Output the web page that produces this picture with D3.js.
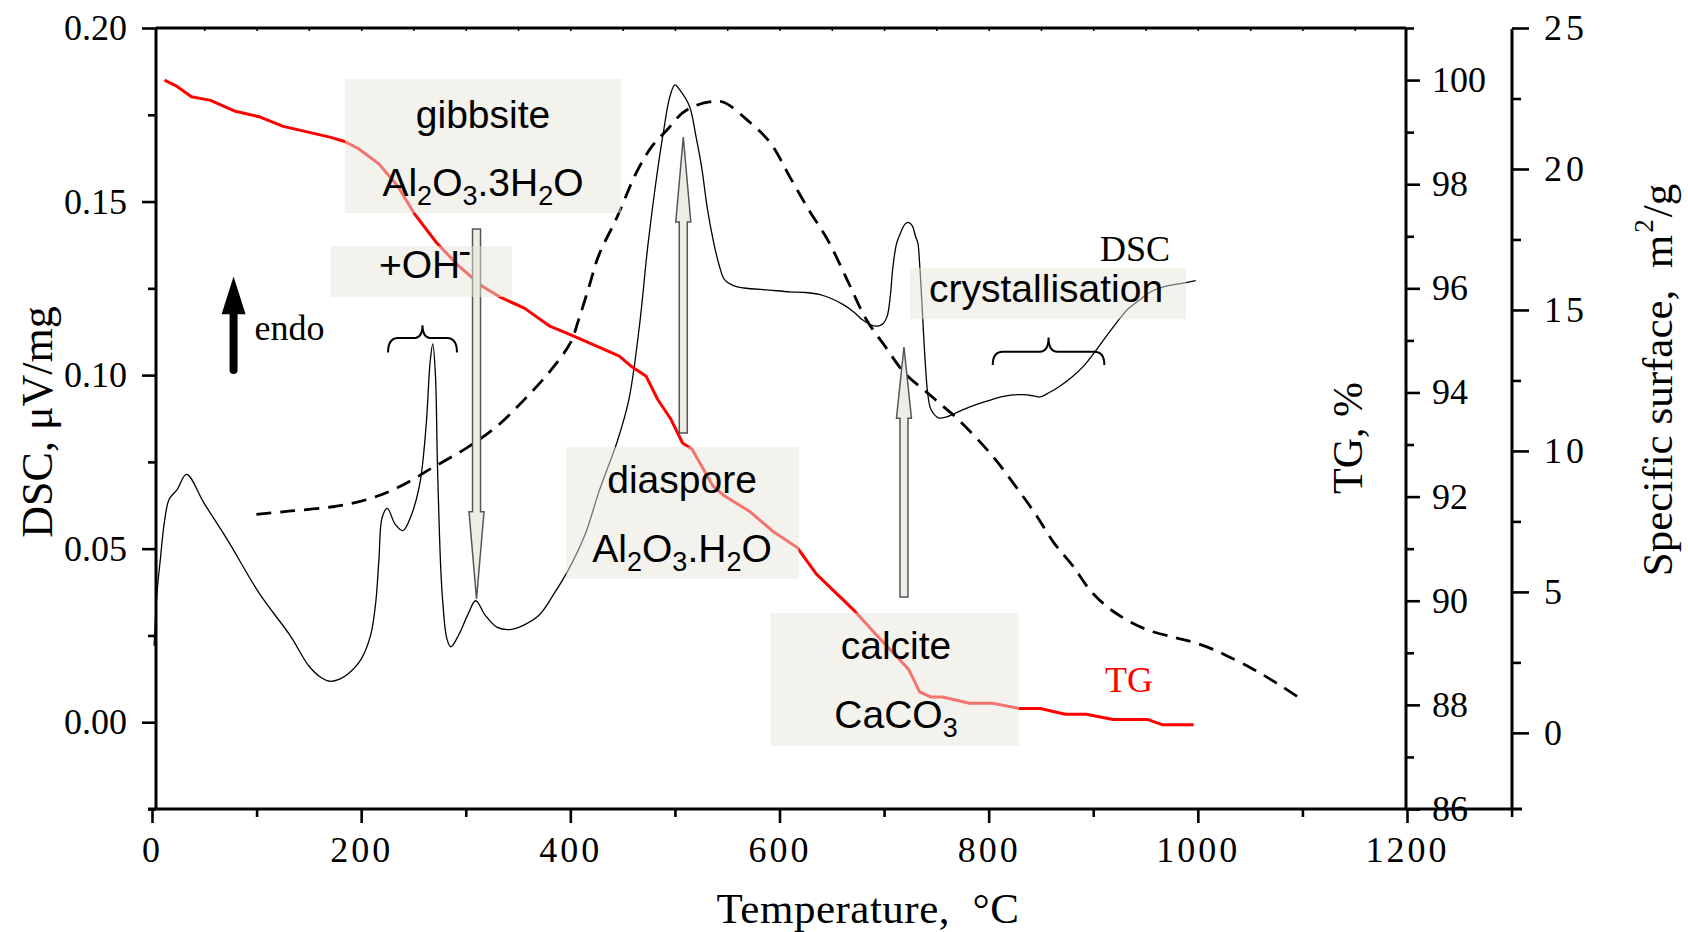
<!DOCTYPE html>
<html>
<head>
<meta charset="utf-8">
<script src="https://cdn.jsdelivr.net/npm/d3@7"></script>
<style>
  body { margin: 0; background: #fff; }
  svg { display: block; }
  .serif { font-family: "Liberation Serif", "Times New Roman", serif; }
  .sans { font-family: "Liberation Sans", Arial, sans-serif; }
</style>
</head>
<body>
<svg id="chart" width="1688" height="932"></svg>
<script>
// DSC curve (temperature, uV/mg)
var dscTemp = [2, 5, 8, 12, 16.5, 24, 33, 50, 73, 102.6, 132, 150, 162, 170, 180, 187, 200, 209, 214, 217,
  220, 225, 232.6, 240, 247, 256, 262, 266, 268.5, 271, 273, 276, 278, 282, 285.7, 293, 302, 309.5, 318.7, 329.7,
  342.5, 355, 370, 384.6, 399, 414, 428, 445, 456, 466, 474, 482, 489, 495, 500, 505, 514, 520, 525.5, 531,
  536.5, 542, 547.5, 556, 565.8, 590, 609.7, 625, 638.8, 650, 661, 671, 679, 687, 693.8, 699, 703, 706, 708.5, 712,
  715.8, 720, 723.2, 727, 730, 732.3, 734, 736, 739.6, 742, 745, 752, 760, 775, 790, 803.7, 814, 833, 843, 849,
  858, 868, 880, 890.5, 903, 912, 922, 933, 944.7, 955, 968, 982, 998];
var dscVal = [0.022, 0.038, 0.047, 0.058, 0.0643, 0.067, 0.0714, 0.063, 0.0521, 0.0371, 0.025, 0.0162, 0.0128, 0.0118, 0.0125, 0.0138, 0.0182, 0.025, 0.0347, 0.047,
  0.0589, 0.0616, 0.057, 0.0552, 0.0589, 0.0686, 0.085, 0.104, 0.109, 0.1, 0.0735, 0.045, 0.0347, 0.024, 0.0217, 0.025, 0.031, 0.035, 0.0308, 0.0274,
  0.0267, 0.0279, 0.0308, 0.0371, 0.0444, 0.054, 0.067, 0.081, 0.093, 0.114, 0.137, 0.156, 0.17, 0.18, 0.1836, 0.182, 0.1774, 0.169, 0.16, 0.148,
  0.139, 0.132, 0.1275, 0.1258, 0.1251, 0.1245, 0.124, 0.1238, 0.1232, 0.122, 0.1203, 0.1182, 0.116, 0.1145, 0.1141, 0.1148, 0.117, 0.123, 0.1313, 0.138,
  0.141, 0.1435, 0.144, 0.143, 0.14, 0.138, 0.132, 0.1217, 0.1025, 0.094, 0.09, 0.0877, 0.088, 0.09, 0.0917, 0.093, 0.0939, 0.0944, 0.094, 0.0937,
  0.095, 0.0968, 0.0995, 0.1025, 0.1073, 0.111, 0.115, 0.119, 0.1217, 0.124, 0.1255, 0.1263, 0.1272];

// TG curve (temperature, %)
var tgTemp = [12, 23, 37.7, 56, 79.7, 103.5, 125.5, 147.4, 171, 184, 196.8, 217, 235, 251.7, 271.9, 293.7, 315.7, 334, 356, 379.8,
  399.9, 428.4, 446.8, 457.8, 472.5, 483.4, 496.3, 507.3, 516.4, 536.5, 547.5, 571.2, 593.2, 617, 635.3, 672, 693.8, 723.2, 734, 745,
  756, 781.7, 803.7, 829.2, 849.4, 873.2, 893.3, 919, 951.8, 965.7, 996];
var tgVal = [100.0, 99.89, 99.68, 99.61, 99.40, 99.29, 99.11, 99.01, 98.90, 98.82, 98.69, 98.39, 97.96, 97.41, 96.88, 96.42, 96.04, 95.82, 95.62, 95.28,
  95.11, 94.86, 94.70, 94.51, 94.31, 93.87, 93.48, 93.03, 92.91, 92.20, 92.01, 91.72, 91.34, 91.02, 90.51, 89.80, 89.32, 88.69, 88.25, 88.15,
  88.15, 88.03, 88.03, 87.93, 87.93, 87.82, 87.82, 87.72, 87.72, 87.62, 87.62];

// specific surface (temperature, m2/g)
var ssTemp = [99.8, 132.8, 173, 206, 235, 268, 301, 330, 356, 380, 400, 408, 418, 426.8, 445, 463, 478, 492.6, 507, 520,
  536, 547, 569, 591.4, 609.7, 628, 646, 664.7, 683, 701, 719.5, 741.5, 752.4, 770.7, 803.7, 825.6, 843.9, 862.2, 880.5, 898.8,
  920.7, 950, 978, 996, 1014, 1028, 1050, 1064, 1082, 1095];
var ssVal = [7.75, 7.87, 8.02, 8.28, 8.70, 9.40, 10.11, 10.88, 11.82, 12.8, 13.83, 14.66, 15.84, 16.9, 18.32, 19.86, 20.80, 21.39, 21.98, 22.25,
  22.39, 22.36, 21.74, 20.92, 19.73, 18.55, 17.49, 16.07, 14.66, 13.71, 12.77, 12.06, 11.71, 11.12, 9.82, 8.75, 7.81, 6.75, 5.92, 4.98,
  4.27, 3.68, 3.38, 3.21, 2.97, 2.73, 2.32, 2.02, 1.61, 1.29];

var xTicks = [0, 200, 400, 600, 800, 1000, 1200];
var xMinor = [100, 300, 500, 700, 900, 1100, 1300];
var dscTicks = [0, 0.05, 0.10, 0.15, 0.20];
var dscMinor = [-0.025, 0.025, 0.075, 0.125, 0.175];
var tgTicks = [86, 88, 90, 92, 94, 96, 98, 100];
var tgMinor = [87, 89, 91, 93, 95, 97, 99, 101];
var ssTicks = [0, 5, 10, 15, 20, 25];
var ssMinor = [2.5, 7.5, 12.5, 17.5, 22.5];

// annotation boxes in data units: [t0, t1, dscTop, dscBottom]
var boxes = [
  [184.5, 448.5, 0.1853, 0.1467],
  [171, 344, 0.1372, 0.1225],
  [396, 618.6, 0.0793, 0.0413],
  [591.4, 829, 0.0315, -0.0068],
  [724.8, 988.7, 0.1309, 0.1161]
];
// hollow arrows: [t, dscTail, dscHeadBase, dscTip]
var hollowArrows = [
  [310.3, 0.1421, 0.0606, 0.0355],
  [508, 0.0833, 0.1441, 0.1686],
  [719, 0.0361, 0.0876, 0.1081]
];
// braces: [t0, t1, dscEnds, dscBar, dscCusp]
var braces = [
  [225.7, 291.6, 0.1065, 0.1107, 0.1144],
  [803.9, 910.6, 0.1029, 0.1067, 0.1108]
];

var svg = d3.select("#chart");

var x = d3.scaleLinear().domain([0, 1300]).range([152, 152 + 1300 * 1255 / 1200]);
var yDsc = d3.scaleLinear().domain([-0.025, 0.2]).range([809, 28]);
var yTg = d3.scaleLinear().domain([86, 101]).range([809, 28]);
var ySs = d3.scaleLinear().domain([-2.7, 25]).range([809, 28]);

function styleAxis(g) {
  g.select(".domain").remove();
  g.selectAll(".tick line").attr("stroke", "#000").attr("stroke-width", 2.6);
  g.selectAll(".tick text")
    .attr("class", "serif")
    .attr("font-size", 36)
    .attr("fill", "#000");
}

// left DSC axis
svg.append("g").attr("transform", "translate(156,0)")
  .call(d3.axisLeft(yDsc).tickValues(dscTicks).tickSize(14).tickPadding(15).tickFormat(d3.format(".2f")))
  .call(styleAxis);
svg.append("g").attr("transform", "translate(156,0)")
  .call(d3.axisLeft(yDsc).tickValues(dscMinor).tickSize(8).tickFormat(""))
  .call(styleAxis);

// bottom axis
var bottom = svg.append("g").attr("transform", "translate(0,809)")
  .call(d3.axisBottom(x).tickValues(xTicks).tickSize(14).tickPadding(13).tickFormat(d3.format("d")))
  .call(styleAxis);
bottom.selectAll(".tick text").attr("letter-spacing", 3);
svg.append("g").attr("transform", "translate(0,809)")
  .call(d3.axisBottom(x).tickValues(xMinor).tickSize(8).tickFormat(""))
  .call(styleAxis);

// small inner ticks on the top frame
var topTicks = svg.append("g").attr("transform", "translate(0,28)")
  .call(d3.axisBottom(x).tickValues(d3.range(50, 1200, 50)).tickSize(3).tickFormat(""))
  .call(styleAxis);
topTicks.selectAll(".tick line").attr("stroke-width", 1.5);

// TG axis
svg.append("g").attr("transform", "translate(1406,0)")
  .call(d3.axisRight(yTg).tickValues(tgTicks).tickSize(14).tickPadding(12).tickFormat(d3.format("d")))
  .call(styleAxis);
svg.append("g").attr("transform", "translate(1406,0)")
  .call(d3.axisRight(yTg).tickValues(tgMinor).tickSize(8).tickFormat(""))
  .call(styleAxis);

// specific surface axis
var ssAxis = svg.append("g").attr("transform", "translate(1512,0)")
  .call(d3.axisRight(ySs).tickValues(ssTicks).tickSize(17).tickPadding(15).tickFormat(d3.format("d")))
  .call(styleAxis);
ssAxis.selectAll(".tick text").attr("letter-spacing", 4);
svg.append("g").attr("transform", "translate(1512,0)")
  .call(d3.axisRight(ySs).tickValues(ssMinor).tickSize(9).tickFormat(""))
  .call(styleAxis);

// frame lines
var frame = svg.append("g").attr("stroke", "#000").attr("stroke-width", 3).attr("fill", "none");
frame.append("line").attr("x1", 156).attr("x2", 156).attr("y1", 28).attr("y2", 809);
frame.append("line").attr("x1", 156).attr("x2", 1406).attr("y1", 28).attr("y2", 28);
frame.append("line").attr("x1", 148).attr("x2", 1522).attr("y1", 809).attr("y2", 809);
frame.append("line").attr("x1", 1406).attr("x2", 1406).attr("y1", 28).attr("y2", 809);
frame.append("line").attr("x1", 1512).attr("x2", 1512).attr("y1", 29).attr("y2", 809);

// axis titles
svg.append("text").attr("class", "serif").attr("font-size", 43)
  .attr("x", 868).attr("y", 923).attr("text-anchor", "middle").attr("letter-spacing", 0.5)
  .text("Temperature,\u00a0\u00a0\u00b0C");
svg.append("text").attr("class", "serif").attr("font-size", 44)
  .attr("text-anchor", "middle").attr("transform", "translate(52,422) rotate(-90)")
  .text("DSC, \u03bcV/mg");
svg.append("text").attr("class", "serif").attr("font-size", 42)
  .attr("text-anchor", "middle").attr("transform", "translate(1362,438) rotate(-90)")
  .text("TG, %");
var ssTitle = svg.append("text").attr("class", "serif").attr("font-size", 43)
  .attr("text-anchor", "middle").attr("transform", "translate(1672,380) rotate(-90)");
ssTitle.append("tspan").text("Specific surface,\u00a0\u00a0m");
ssTitle.append("tspan").attr("font-size", 27).attr("dy", -19).attr("dx", 2).text("2");
ssTitle.append("tspan").attr("dy", 19).attr("dx", 2).text("/g");

// curves
var dscData = dscTemp.map(function(t, i) { return [t, dscVal[i]]; });
var tgData = tgTemp.map(function(t, i) { return [t, tgVal[i]]; });
var ssData = ssTemp.map(function(t, i) { return [t, ssVal[i]]; });

var dscLine = d3.line().x(function(d) { return x(d[0]); }).y(function(d) { return yDsc(d[1]); })
  .curve(d3.curveCatmullRom.alpha(0.5));
var tgLine = d3.line().x(function(d) { return x(d[0]); }).y(function(d) { return yTg(d[1]); });
var ssLine = d3.line().x(function(d) { return x(d[0]); }).y(function(d) { return ySs(d[1]); })
  .curve(d3.curveCatmullRom.alpha(0.5));

svg.append("path").datum(ssData).attr("d", ssLine)
  .attr("fill", "none").attr("stroke", "#000").attr("stroke-width", 2.8).attr("stroke-dasharray", "15,9");
svg.append("path").datum(dscData).attr("d", dscLine)
  .attr("fill", "none").attr("stroke", "#000").attr("stroke-width", 1.3);
svg.append("path").datum(tgData).attr("d", tgLine)
  .attr("fill", "none").attr("stroke", "#ff0000").attr("stroke-width", 3).attr("stroke-linejoin", "round");

// hollow arrows
svg.selectAll(".harrow").data(hollowArrows).enter().append("polygon")
  .attr("class", "harrow")
  .attr("points", function(d) {
    var cx = x(d[0]), y0 = yDsc(d[1]), yb = yDsc(d[2]), yt = yDsc(d[3]);
    return [[cx - 4, y0], [cx - 4, yb], [cx - 7.5, yb], [cx, yt], [cx + 7.5, yb], [cx + 4, yb], [cx + 4, y0]]
      .map(function(p) { return p.join(","); }).join(" ");
  })
  .attr("fill", "#efeee6").attr("stroke", "#555").attr("stroke-width", 1.5);

// translucent label boxes
svg.selectAll(".box").data(boxes).enter().append("rect")
  .attr("class", "box")
  .attr("x", function(d) { return x(d[0]); })
  .attr("y", function(d) { return yDsc(d[2]); })
  .attr("width", function(d) { return x(d[1]) - x(d[0]); })
  .attr("height", function(d) { return yDsc(d[3]) - yDsc(d[2]); })
  .attr("fill", "rgb(232,230,220)").attr("fill-opacity", 0.5);

function chem(t, v, parts, anchor) {
  var txt = svg.append("text").attr("class", "sans").attr("font-size", 39)
    .attr("x", x(t)).attr("y", yDsc(v)).attr("text-anchor", anchor || "middle").attr("fill", "#000");
  var shift = 0;
  parts.forEach(function(p) {
    var sp = txt.append("tspan");
    if (Array.isArray(p)) {
      sp.attr("font-size", 27).attr("dy", 9 - shift).text(p[0]);
      shift = 9;
    } else {
      sp.attr("dy", -shift).text(p);
      shift = 0;
    }
  });
  return txt;
}

chem(316.5, 0.1712, ["gibbsite"]);
chem(316.5, 0.1516, ["Al", ["2"], "O", ["3"], ".3H", ["2"], "O"]);
var oh = chem(217, 0.1279, ["+OH"], "start");
oh.append("tspan").attr("dy", -14).attr("dx", -2).text("-");
chem(506.8, 0.066, ["diaspore"]);
chem(506.8, 0.0462, ["Al", ["2"], "O", ["3"], ".H", ["2"], "O"]);
chem(711.4, 0.0182, ["calcite"]);
chem(711.4, -0.0017, ["CaCO", ["3"]]);
chem(743, 0.1211, ["crystallisation"], "start");

// curve labels
svg.append("text").attr("class", "serif").attr("font-size", 36)
  .attr("x", x(906.5)).attr("y", yDsc(0.1329)).text("DSC");
svg.append("text").attr("class", "serif").attr("font-size", 36).attr("fill", "#ff0000")
  .attr("x", x(911.3)).attr("y", yDsc(0.0087)).text("TG");
svg.append("text").attr("class", "serif").attr("font-size", 36)
  .attr("x", x(98)).attr("y", yDsc(0.1101)).text("endo");

// endo arrow
svg.append("line").attr("x1", x(78)).attr("x2", x(78))
  .attr("y1", yDsc(0.1015)).attr("y2", yDsc(0.1185))
  .attr("stroke", "#000").attr("stroke-width", 8).attr("stroke-linecap", "round");
svg.append("polygon")
  .attr("points", [[x(78) - 12, yDsc(0.1175)], [x(78), yDsc(0.1284)], [x(78) + 12, yDsc(0.1175)]]
    .map(function(p) { return p.join(","); }).join(" "))
  .attr("fill", "#000");

// braces
svg.selectAll(".brace").data(braces).enter().append("path")
  .attr("class", "brace")
  .attr("d", function(d) {
    var x0 = x(d[0]), x1 = x(d[1]), xm = (x0 + x1) / 2;
    var ye = yDsc(d[2]), yb = yDsc(d[3]), yc = yDsc(d[4]);
    return "M" + x0 + "," + ye + " Q" + x0 + "," + yb + " " + (x0 + 10) + "," + yb +
      " L" + (xm - 9) + "," + yb + " Q" + xm + "," + yb + " " + xm + "," + yc +
      " Q" + xm + "," + yb + " " + (xm + 9) + "," + yb +
      " L" + (x1 - 10) + "," + yb + " Q" + x1 + "," + yb + " " + x1 + "," + ye;
  })
  .attr("fill", "none").attr("stroke", "#000").attr("stroke-width", 2);
</script>
</body>
</html>
